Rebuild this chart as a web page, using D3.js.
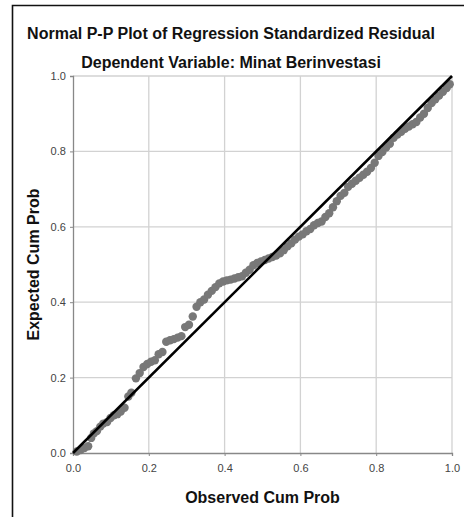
<!DOCTYPE html>
<html>
<head>
<meta charset="utf-8">
<script src="https://cdn.jsdelivr.net/npm/d3@7"></script>
<style>
  html, body { margin: 0; background: #fff; overflow: hidden; }
  svg { display: block; }
  text { font-family: 'Liberation Sans', Arial, sans-serif; }
</style>
</head>
<body>
<div id="chart"></div>
<script>
// data
var title = 'Normal P-P Plot of Regression Standardized Residual'
var subtitle = 'Dependent Variable: Minat Berinvestasi'
var xLabel = 'Observed Cum Prob'
var yLabel = 'Expected Cum Prob'
var tickValues = [0, 0.2, 0.4, 0.6, 0.8, 1.0]

var observed = [
  0.010, 0.020, 0.030, 0.040, 0.048, 0.055, 0.063, 0.072, 0.080, 0.090,
  0.099, 0.108, 0.117, 0.126, 0.136, 0.146, 0.154, 0.166, 0.176, 0.186,
  0.196, 0.206, 0.216, 0.226, 0.236, 0.246, 0.256, 0.266, 0.276, 0.286,
  0.296, 0.306, 0.316, 0.326, 0.336, 0.346, 0.356, 0.366, 0.376, 0.386,
  0.396, 0.406, 0.416, 0.426, 0.436, 0.446, 0.456, 0.466, 0.476, 0.486,
  0.496, 0.506, 0.516, 0.526, 0.536, 0.546, 0.556, 0.566, 0.576, 0.586,
  0.596, 0.606, 0.616, 0.626, 0.636, 0.646, 0.656, 0.666, 0.676, 0.686,
  0.696, 0.706, 0.716, 0.726, 0.736, 0.746, 0.756, 0.766, 0.776, 0.786,
  0.796, 0.806, 0.816, 0.826, 0.836, 0.846, 0.856, 0.866, 0.876, 0.886,
  0.896, 0.906, 0.916, 0.926, 0.936, 0.946, 0.956, 0.966, 0.976, 0.986,
  0.994
]
var expected = [
  0.004, 0.008, 0.013, 0.018, 0.040, 0.052, 0.058, 0.070, 0.078, 0.082,
  0.093, 0.100, 0.103, 0.110, 0.120, 0.150, 0.160, 0.198, 0.212, 0.228,
  0.236, 0.242, 0.246, 0.262, 0.268, 0.295, 0.299, 0.302, 0.306, 0.310,
  0.334, 0.340, 0.362, 0.388, 0.400, 0.407, 0.420, 0.430, 0.440, 0.450,
  0.455, 0.458, 0.460, 0.463, 0.466, 0.469, 0.478, 0.486, 0.498, 0.504,
  0.508, 0.512, 0.516, 0.520, 0.524, 0.530, 0.538, 0.548, 0.556, 0.566,
  0.574, 0.580, 0.588, 0.594, 0.604, 0.610, 0.614, 0.626, 0.636, 0.652,
  0.668, 0.682, 0.690, 0.706, 0.714, 0.722, 0.730, 0.738, 0.746, 0.756,
  0.770, 0.788, 0.798, 0.810, 0.820, 0.836, 0.845, 0.852, 0.860, 0.866,
  0.872, 0.878, 0.890, 0.900, 0.915, 0.928, 0.938, 0.948, 0.958, 0.968,
  0.978
]

var margin = { top: 76, left: 73, right: 12, bottom: 64 }
var width = 464 - margin.left - margin.right
var height = 517 - margin.top - margin.bottom

var root = d3
  .select('#chart')
  .append('svg')
  .attr('width', 464)
  .attr('height', 517)

// outer frame: only top and left edges are in view
root
  .append('path')
  .attr('d', 'M12.5,517 V5.5 H464')
  .attr('fill', 'none')
  .attr('stroke', '#111')
  .attr('stroke-width', 1.6)

root
  .append('text')
  .text(title)
  .attr('x', 231)
  .attr('y', 39)
  .attr('text-anchor', 'middle')
  .attr('font-size', 16)
  .attr('font-weight', 'bold')
  .attr('fill', '#111')

root
  .append('text')
  .text(subtitle)
  .attr('x', 231)
  .attr('y', 68)
  .attr('text-anchor', 'middle')
  .attr('font-size', 16)
  .attr('font-weight', 'bold')
  .attr('fill', '#111')

var svg = root
  .append('g')
  .attr('transform', 'translate(' + margin.left + ',' + margin.top + ')')

var xPositionScale = d3.scaleLinear().domain([0, 1]).range([0, width])
var yPositionScale = d3.scaleLinear().domain([0, 1]).range([height, 0])

// grid
svg
  .selectAll('.vgrid')
  .data(tickValues.slice(1))
  .enter()
  .append('line')
  .attr('class', 'vgrid')
  .attr('x1', d => xPositionScale(d))
  .attr('x2', d => xPositionScale(d))
  .attr('y1', 0)
  .attr('y2', height)
  .attr('stroke', '#d2d2d2')
  .attr('stroke-width', 1.3)

svg
  .selectAll('.hgrid')
  .data(tickValues.slice(1))
  .enter()
  .append('line')
  .attr('class', 'hgrid')
  .attr('x1', 0)
  .attr('x2', width)
  .attr('y1', d => yPositionScale(d))
  .attr('y2', d => yPositionScale(d))
  .attr('stroke', '#d2d2d2')
  .attr('stroke-width', 1.3)

// axes
var xAxis = d3
  .axisBottom(xPositionScale)
  .tickValues(tickValues)
  .tickFormat(d3.format('.1f'))
  .tickSize(3)

svg
  .append('g')
  .attr('class', 'axis x-axis')
  .attr('transform', 'translate(0,' + height + ')')
  .call(xAxis)

var yAxis = d3
  .axisLeft(yPositionScale)
  .tickValues(tickValues)
  .tickFormat(d3.format('.1f'))
  .tickSize(3)

svg
  .append('g')
  .attr('class', 'axis y-axis')
  .call(yAxis)

svg.selectAll('.axis path').attr('stroke', '#888').attr('stroke-width', 1.3)
svg.selectAll('.axis line').attr('stroke', '#888')
svg
  .selectAll('.axis text')
  .attr('font-family', "'Liberation Sans', Arial, sans-serif")
  .attr('font-size', 11)
  .attr('fill', '#444')
svg.selectAll('.x-axis text').attr('dy', '1.2em')
svg.selectAll('.y-axis text').attr('dx', '-0.1em')

// points
var points = observed.map((d, i) => ({ x: d, y: expected[i] }))

svg
  .selectAll('.pp-point')
  .data(points)
  .enter()
  .append('circle')
  .attr('class', 'pp-point')
  .attr('r', 4.2)
  .attr('cx', d => xPositionScale(d.x))
  .attr('cy', d => yPositionScale(d.y))
  .attr('fill', '#787878')

// reference line
svg
  .append('line')
  .attr('x1', xPositionScale(0))
  .attr('y1', yPositionScale(0))
  .attr('x2', xPositionScale(1))
  .attr('y2', yPositionScale(1))
  .attr('stroke', '#000')
  .attr('stroke-width', 2.6)

// axis titles
svg
  .append('text')
  .text(xLabel)
  .attr('x', width / 2)
  .attr('y', height + 50)
  .attr('text-anchor', 'middle')
  .attr('font-size', 16)
  .attr('font-weight', 'bold')
  .attr('fill', '#111')

svg
  .append('text')
  .text(yLabel)
  .attr('transform', 'translate(-34,' + height / 2 + ') rotate(-90)')
  .attr('text-anchor', 'middle')
  .attr('font-size', 16)
  .attr('font-weight', 'bold')
  .attr('fill', '#111')
</script>
</body>
</html>
